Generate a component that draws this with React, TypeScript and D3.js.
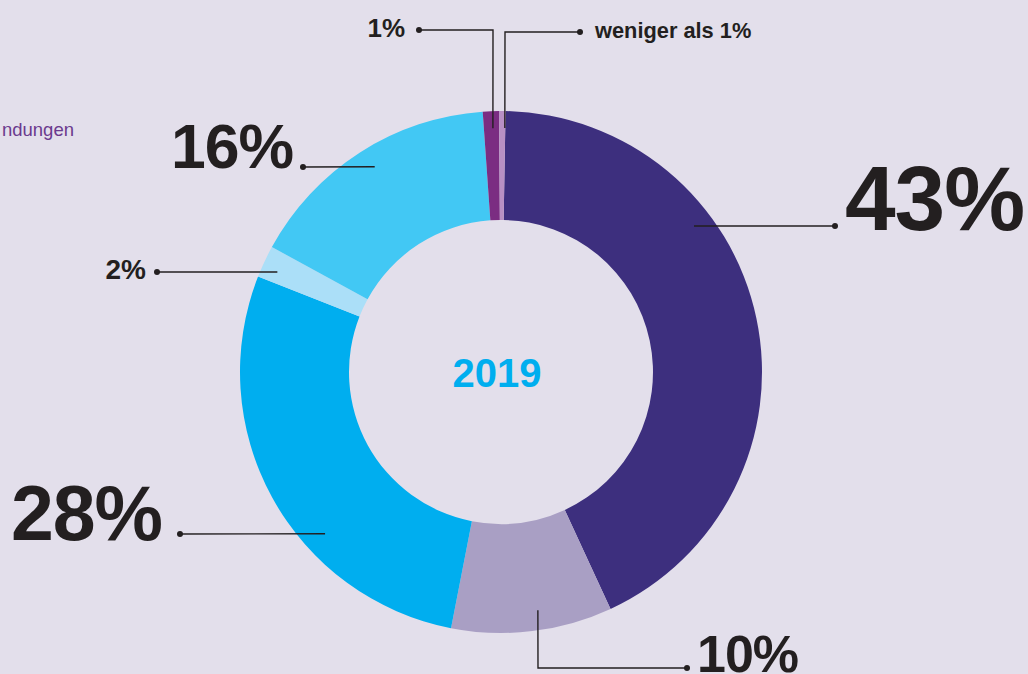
import * as d3 from "d3";

// Anteile 2019 (im Uhrzeigersinn ab 12 Uhr)
const labels = ["43%", "10%", "28%", "2%", "16%", "1%", "weniger als 1%"];
const values = [43, 10, 28, 2, 16, 1, 0.4];
const colors = ["#3d2f7e", "#a99fc4", "#00aeef", "#abdff8", "#42c8f4", "#7b2d82", "#b890c4"];
const centerLabel = "2019";

// Beschriftungen: Text-Position, Schriftgröße, Leader-Linie (Startpunkt polar, dann Knicke)
const labelLayout = [
  { x: 845, y: 230, size: 91, anchor: "start", leader: { a: 52.9, r: 242, pts: [[835, 226]] } },
  { x: 697, y: 672, size: 52, anchor: "start", leader: { a: 171.2, r: 241, pts: [[538, 668], [687, 668]] } },
  { x: 162, y: 540, size: 77, anchor: "end", leader: { a: 227.4, r: 239, pts: [[180, 534]] } },
  { x: 146, y: 279, size: 28, anchor: "end", leader: { a: 294.1, r: 245, pts: [[157, 272]] } },
  { x: 293, y: 168, size: 62.5, anchor: "end", leader: { a: 328.4, r: 241, pts: [[303, 167]] } },
  { x: 405, y: 37, size: 26, anchor: "end", leader: { a: 358.1, r: 244, pts: [[493, 30], [419, 30]] } },
  { x: 595, y: 38, size: 21.8, anchor: "start", leader: { a: 0.9, r: 244, pts: [[505, 32], [580, 32]] } },
];

const W = 1028;
const H = 674;
const cx = 501;
const cy = 372;
const outerR = 261;
const innerR = 152;
const ink = "#231f20";
const font = "'Liberation Sans', Arial, Helvetica, sans-serif";

const App = () => {
  const start = (1 * Math.PI) / 180;
  const pie = d3
    .pie<number>()
    .sort(null)
    .startAngle(start)
    .endAngle(start + Math.PI * 2)
    .value((d) => d);
  const arcs = pie(values);
  const arc = d3.arc<d3.PieArcDatum<number>>().innerRadius(innerR).outerRadius(outerR);

  const polar = (a: number, r: number): [number, number] => {
    const t = (a * Math.PI) / 180;
    return [cx + r * Math.sin(t), cy - r * Math.cos(t)];
  };
  const line = d3.line();

  return (
    <svg
      width={W}
      height={H}
      style={{ position: "fixed", left: 0, top: 0, background: "#e3dfeb" }}
    >
      <rect width={W} height={H} fill="#e3dfeb" />

      <text x={74} y={136} textAnchor="end" fill="#6b3a8e" fontFamily={font} fontSize={18.5}>
        ndungen
      </text>

      <g transform={`translate(${cx},${cy})`}>
        {arcs.map((a, i) => (
          <path key={i} d={arc(a) ?? ""} fill={colors[i]} />
        ))}
      </g>

      <text
        x={cx - 4}
        y={cy + 15}
        textAnchor="middle"
        fill="#00aeef"
        fontFamily={font}
        fontWeight="bold"
        fontSize={40}
      >
        {centerLabel}
      </text>

      {labelLayout.map((l, i) => {
        const p0 = polar(l.leader.a, l.leader.r);
        const pts = [p0, ...(l.leader.pts as [number, number][])];
        const end = pts[pts.length - 1];
        return (
          <g key={i}>
            <path d={line(pts) ?? ""} fill="none" stroke={ink} strokeWidth={1.4} />
            <circle cx={end[0]} cy={end[1]} r={3} fill={ink} />
            <text
              x={l.x}
              y={l.y}
              textAnchor={l.anchor}
              fill={ink}
              fontFamily={font}
              fontWeight="bold"
              fontSize={l.size}
              letterSpacing={l.size > 40 ? -1 : 0}
            >
              {labels[i]}
            </text>
          </g>
        );
      })}
    </svg>
  );
};

export default App;
